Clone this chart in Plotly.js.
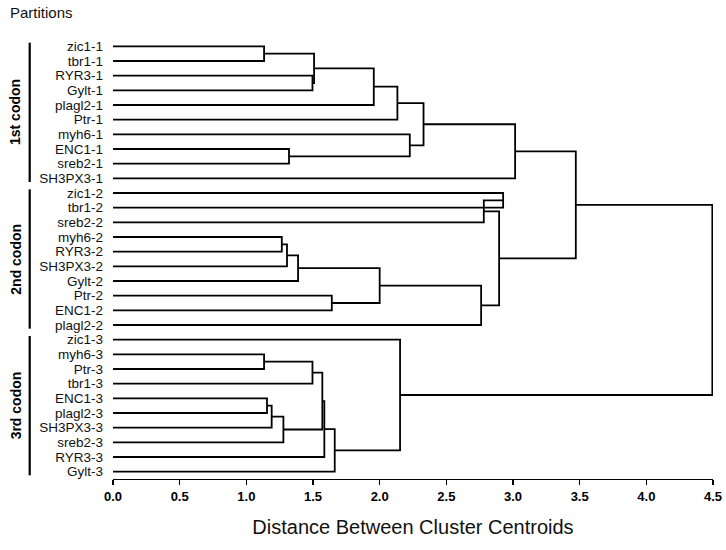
<!DOCTYPE html>
<html>
<head>
<meta charset="utf-8">
<script src="https://cdn.plot.ly/plotly-3.0.1.min.js"></script>
<style>html,body{margin:0;padding:0;background:#fff;}</style>
</head>
<body>
<div id="chart" style="width:726px;height:550px;"></div>
<script>
// Leaves, top to bottom
const leaves = [
  'zic1-1','tbr1-1','RYR3-1','Gylt-1','plagl2-1','Ptr-1','myh6-1','ENC1-1','sreb2-1','SH3PX3-1',
  'zic1-2','tbr1-2','sreb2-2','myh6-2','RYR3-2','SH3PX3-2','Gylt-2','Ptr-2','ENC1-2','plagl2-2',
  'zic1-3','myh6-3','Ptr-3','tbr1-3','ENC1-3','plagl2-3','SH3PX3-3','sreb2-3','RYR3-3','Gylt-3'
];
// Merges (centroid linkage): node name, left child, right child, merge distance
const mergeName  = ['A','B','C','D','E','F','G','H','I','J','K','L','M','N','O','P','Q','R','S','T','U','V','W','X','Y','Z','AA','AB','ROOT'];
const mergeLeft  = ['zic1-1','RYR3-1','A','C','D','ENC1-1','myh6-1','E','H','zic1-2','J','myh6-2','L','M','Ptr-2','N','P','K','I','myh6-3','T','ENC1-3','V','W','U','Y','Z','zic1-3','S'];
const mergeRight = ['tbr1-1','Gylt-1','B','plagl2-1','Ptr-1','sreb2-1','F','G','SH3PX3-1','tbr1-2','sreb2-2','RYR3-2','SH3PX3-2','Gylt-2','ENC1-2','O','plagl2-2','Q','R','Ptr-3','tbr1-3','plagl2-3','SH3PX3-3','sreb2-3','X','RYR3-3','Gylt-3','AA','AB'];
const mergeHeight= [1.133,1.496,1.508,1.956,2.133,1.32,2.226,2.329,3.016,2.926,2.781,1.266,1.305,1.388,1.641,2.0,2.761,2.896,3.471,1.133,1.496,1.155,1.19,1.278,1.57,1.585,1.663,2.153,4.495];
// Partition groups
const groupLabels = ['1st codon','2nd codon','3rd codon'];
const groupFirst  = ['zic1-1','zic1-2','zic1-3'];
const groupLast   = ['SH3PX3-1','plagl2-2','Gylt-3'];
const xTicks = [0,0.5,1,1.5,2,2.5,3,3.5,4,4.5];

// Build dendrogram segments
const node = {};
leaves.forEach((n,i)=>{ node[n] = {y:i, h:0}; });
const xs = [], ys = [];
mergeName.forEach((n,k)=>{
  const L = node[mergeLeft[k]], R = node[mergeRight[k]], h = mergeHeight[k];
  xs.push(L.h, h, h, R.h, null);
  ys.push(L.y, L.y, R.y, R.y, null);
  node[n] = {y:(L.y+R.y)/2, h:h};
});

const yLo = -0.5, yHi = leaves.length - 0.5;
const py = v => 1 - (v - yLo)/(yHi - yLo);
const plotL = 113.3, plotW = 600;
const px = p => (p - plotL)/plotW;

const shapes = [], annotations = [];
groupLabels.forEach((g,i)=>{
  const a = leaves.indexOf(groupFirst[i]) - 0.25, b = leaves.indexOf(groupLast[i]) + 0.25;
  shapes.push({type:'line', xref:'paper', yref:'paper', x0:px(30), x1:px(30), y0:py(a), y1:py(b),
               line:{color:'#000', width:2.2}});
  annotations.push({text:g, xref:'paper', yref:'paper', x:px(16), y:py((a+b)/2),
    xanchor:'center', yanchor:'middle', textangle:-90, showarrow:false,
    font:{family:'Liberation Sans, Arial, sans-serif', size:14, weight:'bold', color:'#000'}});
});

const trace = {x:xs, y:ys, type:'scatter', mode:'lines', line:{color:'#000', width:1.8},
  hoverinfo:'skip', showlegend:false, connectgaps:false};

const layout = {
  width:726, height:550,
  margin:{l:113.3, r:12.7, t:39.4, b:71, pad:0},
  paper_bgcolor:'#fff', plot_bgcolor:'#fff',
  font:{family:'Liberation Sans, Arial, sans-serif', color:'#000'},
  title:{text:'Partitions', xref:'container', yref:'container', x:10/726, xanchor:'left',
         y:1-13/550, yanchor:'middle', font:{size:15, color:'#111'}},
  xaxis:{range:[0,4.5], tickvals:xTicks, ticktext:xTicks.map(v=>v.toFixed(1)),
         showline:true, linecolor:'#000', linewidth:1.4, ticks:'outside', ticklen:5, tickwidth:1.4, tickcolor:'#000',
         showgrid:false, zeroline:false, tickfont:{size:13, weight:'bold', color:'#000'},
         title:{text:'Distance Between Cluster Centroids', font:{size:20, color:'#111'}, standoff:17}},
  yaxis:{range:[yHi,yLo], tickvals:leaves.map((_,i)=>i), ticktext:leaves,
         showgrid:false, zeroline:false, showline:false, ticks:'', ticklabelstandoff:9,
         tickfont:{size:13.5, color:'#111'}},
  shapes:shapes, annotations:annotations
};
Plotly.newPlot('chart', [trace], layout, {staticPlot:true, displayModeBar:false});
</script>
</body>
</html>
